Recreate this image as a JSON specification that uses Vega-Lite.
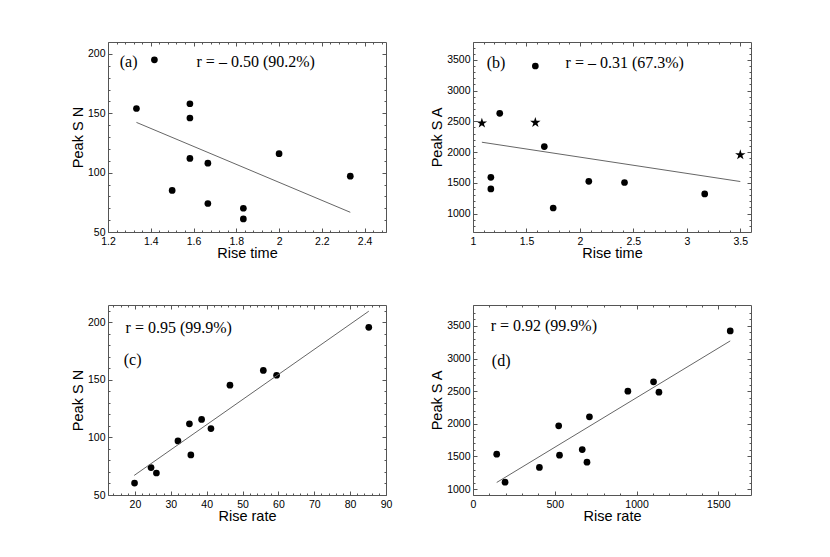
{
  "$schema": "https://vega.github.io/schema/vega-lite/v6.json",
  "background": "white",
  "padding": {"left": 69, "top": 41, "right": 5, "bottom": 5},
  "config": {
    "view": {"stroke": "#555", "strokeWidth": 1},
    "axis": {
      "grid": false,
      "domain": false,
      "tickColor": "#555",
      "tickSize": -4,
      "labelFont": "Liberation Sans",
      "labelFontSize": 10.5,
      "labelColor": "#000",
      "labelFlush": false,
      "labelOverlap": false,
      "titleFont": "Liberation Sans",
      "titleFontSize": 14.5,
      "titleFontWeight": "normal",
      "titleColor": "#000",
      "format": ".6~g"
    },
    "axisX": {"labelPadding": 8, "titlePadding": 0},
    "axisY": {"labelPadding": 7, "titlePadding": 2},
    "text": {"font": "Liberation Serif", "fontSize": 16, "align": "left", "baseline": "middle", "color": "#000"}
  },
  "datasets": {
    "a_points": [
      {"rise_time": 1.417, "peak_sn": 195},
      {"rise_time": 1.333, "peak_sn": 154},
      {"rise_time": 1.583, "peak_sn": 158},
      {"rise_time": 1.583, "peak_sn": 146},
      {"rise_time": 1.583, "peak_sn": 112},
      {"rise_time": 1.667, "peak_sn": 108},
      {"rise_time": 1.5, "peak_sn": 85},
      {"rise_time": 1.667, "peak_sn": 74},
      {"rise_time": 1.833, "peak_sn": 70},
      {"rise_time": 1.833, "peak_sn": 61},
      {"rise_time": 2.0, "peak_sn": 116},
      {"rise_time": 2.333, "peak_sn": 97}
    ],
    "a_fit": [
      {"rise_time": 1.333, "peak_sn": 142.3},
      {"rise_time": 2.333, "peak_sn": 66.6}
    ],
    "b_points": [
      {"rise_time": 1.583, "peak_sa": 3400, "event": "normal"},
      {"rise_time": 1.25, "peak_sa": 2630, "event": "normal"},
      {"rise_time": 1.083, "peak_sa": 2470, "event": "starred"},
      {"rise_time": 1.583, "peak_sa": 2480, "event": "starred"},
      {"rise_time": 1.667, "peak_sa": 2090, "event": "normal"},
      {"rise_time": 1.167, "peak_sa": 1590, "event": "normal"},
      {"rise_time": 1.167, "peak_sa": 1400, "event": "normal"},
      {"rise_time": 1.75, "peak_sa": 1090, "event": "normal"},
      {"rise_time": 2.083, "peak_sa": 1525, "event": "normal"},
      {"rise_time": 2.417, "peak_sa": 1505, "event": "normal"},
      {"rise_time": 3.167, "peak_sa": 1320, "event": "normal"},
      {"rise_time": 3.5, "peak_sa": 1955, "event": "starred"}
    ],
    "b_fit": [
      {"rise_time": 1.083, "peak_sa": 2160},
      {"rise_time": 3.5, "peak_sa": 1521}
    ],
    "c_points": [
      {"rise_rate": 85.2, "peak_sn": 195.6},
      {"rise_rate": 55.8, "peak_sn": 158.2},
      {"rise_rate": 59.5, "peak_sn": 154},
      {"rise_rate": 46.5, "peak_sn": 145.4},
      {"rise_rate": 38.6, "peak_sn": 115.6},
      {"rise_rate": 35.2, "peak_sn": 111.8},
      {"rise_rate": 41.2, "peak_sn": 107.7},
      {"rise_rate": 32, "peak_sn": 97},
      {"rise_rate": 35.6, "peak_sn": 84.8},
      {"rise_rate": 24.5, "peak_sn": 73.8},
      {"rise_rate": 26, "peak_sn": 69.1},
      {"rise_rate": 19.9, "peak_sn": 60.4}
    ],
    "c_fit": [
      {"rise_rate": 19.8, "peak_sn": 67},
      {"rise_rate": 85.2, "peak_sn": 209.6}
    ],
    "d_points": [
      {"rise_rate": 1573, "peak_sa": 3423},
      {"rise_rate": 1104, "peak_sa": 2643},
      {"rise_rate": 1137, "peak_sa": 2485},
      {"rise_rate": 947, "peak_sa": 2500},
      {"rise_rate": 712, "peak_sa": 2107},
      {"rise_rate": 524, "peak_sa": 1969},
      {"rise_rate": 529, "peak_sa": 1520},
      {"rise_rate": 145, "peak_sa": 1536},
      {"rise_rate": 196, "peak_sa": 1107},
      {"rise_rate": 406, "peak_sa": 1332},
      {"rise_rate": 668, "peak_sa": 1605},
      {"rise_rate": 697, "peak_sa": 1413}
    ],
    "d_fit": [
      {"rise_rate": 145, "peak_sa": 1102},
      {"rise_rate": 1573, "peak_sa": 3270}
    ]
  },
  "columns": 2,
  "spacing": {"row": 73, "column": 87},
  "bounds": "flush",
  "concat": [
    {
      "width": 278,
      "height": 190,
      "resolve": {"axis": {"x": "independent", "y": "independent"}},
      "layer": [
        {
          "data": {"name": "a_points"},
          "mark": {"type": "point", "filled": true, "shape": "circle", "size": 45, "color": "#000", "opacity": 1},
          "encoding": {
            "x": {"field": "rise_time", "type": "quantitative", "scale": {"domain": [1.2, 2.5], "nice": false, "zero": false},
              "axis": {"orient": "bottom", "title": "Rise time", "values": [1.2, 1.4, 1.6, 1.8, 2, 2.2, 2.4]}},
            "y": {"field": "peak_sn", "type": "quantitative", "scale": {"domain": [50, 210], "nice": false, "zero": false},
              "axis": {"orient": "left", "title": "Peak S N", "values": [50, 100, 150, 200]}}
          }
        },
        {
          "data": {"name": "a_fit"},
          "mark": {"type": "line", "color": "#666", "strokeWidth": 1},
          "encoding": {
            "x": {"field": "rise_time", "type": "quantitative", "scale": {"domain": [1.2, 2.5], "nice": false, "zero": false},
              "axis": {"orient": "top", "title": null, "labels": false, "values": [1.2, 1.4, 1.6, 1.8, 2, 2.2, 2.4]}},
            "y": {"field": "peak_sn", "type": "quantitative", "scale": {"domain": [50, 210], "nice": false, "zero": false},
              "axis": {"orient": "right", "title": null, "labels": false, "values": [50, 100, 150, 200]}}
          }
        },
        {
          "data": {"values": [{"label": "(a)"}]},
          "mark": {"type": "text"},
          "encoding": {
            "text": {"field": "label"},
            "x": {"datum": 1.255, "type": "quantitative", "scale": {"domain": [1.2, 2.5], "nice": false, "zero": false},
              "axis": {"orient": "bottom", "title": null, "labels": false, "tickSize": -2,
                "values": [1.24, 1.28, 1.32, 1.36, 1.44, 1.48, 1.52, 1.56, 1.64, 1.68, 1.72, 1.76, 1.84, 1.88, 1.92, 1.96, 2.04, 2.08, 2.12, 2.16, 2.24, 2.28, 2.32, 2.36, 2.44, 2.48]}},
            "y": {"datum": 193, "type": "quantitative", "scale": {"domain": [50, 210], "nice": false, "zero": false},
              "axis": {"orient": "left", "title": null, "labels": false, "tickSize": -2,
                "values": [60, 70, 80, 90, 110, 120, 130, 140, 160, 170, 180, 190]}}
          }
        },
        {
          "data": {"values": [{"label": "r = – 0.50 (90.2%)"}]},
          "mark": {"type": "text"},
          "encoding": {
            "text": {"field": "label"},
            "x": {"datum": 1.614, "type": "quantitative", "scale": {"domain": [1.2, 2.5], "nice": false, "zero": false},
              "axis": {"orient": "top", "title": null, "labels": false, "tickSize": -2,
                "values": [1.24, 1.28, 1.32, 1.36, 1.44, 1.48, 1.52, 1.56, 1.64, 1.68, 1.72, 1.76, 1.84, 1.88, 1.92, 1.96, 2.04, 2.08, 2.12, 2.16, 2.24, 2.28, 2.32, 2.36, 2.44, 2.48]}},
            "y": {"datum": 193, "type": "quantitative", "scale": {"domain": [50, 210], "nice": false, "zero": false},
              "axis": {"orient": "right", "title": null, "labels": false, "tickSize": -2,
                "values": [60, 70, 80, 90, 110, 120, 130, 140, 160, 170, 180, 190]}}
          }
        }
      ]
    },
    {
      "width": 278,
      "height": 190,
      "resolve": {"axis": {"x": "independent", "y": "independent"}},
      "layer": [
        {
          "data": {"name": "b_points"},
          "transform": [{"filter": "datum.event == 'normal'"}],
          "mark": {"type": "point", "filled": true, "shape": "circle", "size": 45, "color": "#000", "opacity": 1},
          "encoding": {
            "x": {"field": "rise_time", "type": "quantitative", "scale": {"domain": [1, 3.6], "nice": false, "zero": false},
              "axis": {"orient": "bottom", "title": "Rise time", "values": [1, 1.5, 2, 2.5, 3, 3.5]}},
            "y": {"field": "peak_sa", "type": "quantitative", "scale": {"domain": [700, 3790], "nice": false, "zero": false},
              "axis": {"orient": "left", "title": "Peak S A", "values": [1000, 1500, 2000, 2500, 3000, 3500]}}
          }
        },
        {
          "data": {"name": "b_fit"},
          "mark": {"type": "line", "color": "#666", "strokeWidth": 1},
          "encoding": {
            "x": {"field": "rise_time", "type": "quantitative", "scale": {"domain": [1, 3.6], "nice": false, "zero": false},
              "axis": {"orient": "top", "title": null, "labels": false, "values": [1, 1.5, 2, 2.5, 3, 3.5]}},
            "y": {"field": "peak_sa", "type": "quantitative", "scale": {"domain": [700, 3790], "nice": false, "zero": false},
              "axis": {"orient": "right", "title": null, "labels": false, "values": [1000, 1500, 2000, 2500, 3000, 3500]}}
          }
        },
        {
          "data": {"name": "b_points"},
          "transform": [{"filter": "datum.event == 'starred'"}],
          "mark": {"type": "point", "filled": true, "size": 120, "color": "#000", "opacity": 1,
            "shape": "M0,-1L0.225,-0.309L0.951,-0.309L0.363,0.118L0.588,0.809L0,0.382L-0.588,0.809L-0.363,0.118L-0.951,-0.309L-0.225,-0.309Z"},
          "encoding": {
            "x": {"field": "rise_time", "type": "quantitative", "scale": {"domain": [1, 3.6], "nice": false, "zero": false},
              "axis": {"orient": "bottom", "title": null, "labels": false, "tickSize": -2,
                "values": [1.1, 1.2, 1.3, 1.4, 1.6, 1.7, 1.8, 1.9, 2.1, 2.2, 2.3, 2.4, 2.6, 2.7, 2.8, 2.9, 3.1, 3.2, 3.3, 3.4]}},
            "y": {"field": "peak_sa", "type": "quantitative", "scale": {"domain": [700, 3790], "nice": false, "zero": false},
              "axis": {"orient": "left", "title": null, "labels": false, "tickSize": -2,
                "values": [800, 900, 1100, 1200, 1300, 1400, 1600, 1700, 1800, 1900, 2100, 2200, 2300, 2400, 2600, 2700, 2800, 2900, 3100, 3200, 3300, 3400, 3600, 3700]}}
          }
        },
        {
          "data": {"values": [{"label": "(b)"}]},
          "mark": {"type": "text"},
          "encoding": {
            "text": {"field": "label"},
            "x": {"datum": 1.128, "type": "quantitative", "scale": {"domain": [1, 3.6], "nice": false, "zero": false},
              "axis": {"orient": "top", "title": null, "labels": false, "tickSize": -2,
                "values": [1.1, 1.2, 1.3, 1.4, 1.6, 1.7, 1.8, 1.9, 2.1, 2.2, 2.3, 2.4, 2.6, 2.7, 2.8, 2.9, 3.1, 3.2, 3.3, 3.4]}},
            "y": {"datum": 3456, "type": "quantitative", "scale": {"domain": [700, 3790], "nice": false, "zero": false},
              "axis": {"orient": "right", "title": null, "labels": false, "tickSize": -2,
                "values": [800, 900, 1100, 1200, 1300, 1400, 1600, 1700, 1800, 1900, 2100, 2200, 2300, 2400, 2600, 2700, 2800, 2900, 3100, 3200, 3300, 3400, 3600, 3700]}}
          }
        },
        {
          "data": {"values": [{"label": "r = – 0.31 (67.3%)"}]},
          "mark": {"type": "text"},
          "encoding": {
            "text": {"field": "label"},
            "x": {"datum": 1.866, "type": "quantitative", "scale": {"domain": [1, 3.6], "nice": false, "zero": false}, "axis": null},
            "y": {"datum": 3456, "type": "quantitative", "scale": {"domain": [700, 3790], "nice": false, "zero": false}, "axis": null}
          }
        }
      ]
    },
    {
      "width": 278,
      "height": 190,
      "resolve": {"axis": {"x": "independent", "y": "independent"}},
      "layer": [
        {
          "data": {"name": "c_points"},
          "mark": {"type": "point", "filled": true, "shape": "circle", "size": 45, "color": "#000", "opacity": 1},
          "encoding": {
            "x": {"field": "rise_rate", "type": "quantitative", "scale": {"domain": [12.5, 90], "nice": false, "zero": false},
              "axis": {"orient": "bottom", "title": "Rise rate", "values": [20, 30, 40, 50, 60, 70, 80, 90]}},
            "y": {"field": "peak_sn", "type": "quantitative", "scale": {"domain": [50, 215], "nice": false, "zero": false},
              "axis": {"orient": "left", "title": "Peak S N", "values": [50, 100, 150, 200]}}
          }
        },
        {
          "data": {"name": "c_fit"},
          "mark": {"type": "line", "color": "#666", "strokeWidth": 1},
          "encoding": {
            "x": {"field": "rise_rate", "type": "quantitative", "scale": {"domain": [12.5, 90], "nice": false, "zero": false},
              "axis": {"orient": "top", "title": null, "labels": false, "values": [20, 30, 40, 50, 60, 70, 80]}},
            "y": {"field": "peak_sn", "type": "quantitative", "scale": {"domain": [50, 215], "nice": false, "zero": false},
              "axis": {"orient": "right", "title": null, "labels": false, "values": [50, 100, 150, 200]}}
          }
        },
        {
          "data": {"values": [{"label": "r = 0.95 (99.9%)"}]},
          "mark": {"type": "text"},
          "encoding": {
            "text": {"field": "label"},
            "x": {"datum": 17.4, "type": "quantitative", "scale": {"domain": [12.5, 90], "nice": false, "zero": false},
              "axis": {"orient": "bottom", "title": null, "labels": false, "tickSize": -2,
                "values": [14, 16, 18, 22, 24, 26, 28, 32, 34, 36, 38, 42, 44, 46, 48, 52, 54, 56, 58, 62, 64, 66, 68, 72, 74, 76, 78, 82, 84, 86, 88]}},
            "y": {"datum": 195, "type": "quantitative", "scale": {"domain": [50, 215], "nice": false, "zero": false},
              "axis": {"orient": "left", "title": null, "labels": false, "tickSize": -2,
                "values": [60, 70, 80, 90, 110, 120, 130, 140, 160, 170, 180, 190, 210]}}
          }
        },
        {
          "data": {"values": [{"label": "(c)"}]},
          "mark": {"type": "text"},
          "encoding": {
            "text": {"field": "label"},
            "x": {"datum": 16.9, "type": "quantitative", "scale": {"domain": [12.5, 90], "nice": false, "zero": false},
              "axis": {"orient": "top", "title": null, "labels": false, "tickSize": -2,
                "values": [14, 16, 18, 22, 24, 26, 28, 32, 34, 36, 38, 42, 44, 46, 48, 52, 54, 56, 58, 62, 64, 66, 68, 72, 74, 76, 78, 82, 84, 86, 88]}},
            "y": {"datum": 167.5, "type": "quantitative", "scale": {"domain": [50, 215], "nice": false, "zero": false},
              "axis": {"orient": "right", "title": null, "labels": false, "tickSize": -2,
                "values": [60, 70, 80, 90, 110, 120, 130, 140, 160, 170, 180, 190, 210]}}
          }
        }
      ]
    },
    {
      "width": 278,
      "height": 190,
      "resolve": {"axis": {"x": "independent", "y": "independent"}},
      "layer": [
        {
          "data": {"name": "d_points"},
          "mark": {"type": "point", "filled": true, "shape": "circle", "size": 45, "color": "#000", "opacity": 1},
          "encoding": {
            "x": {"field": "rise_rate", "type": "quantitative", "scale": {"domain": [0, 1700], "nice": false, "zero": false},
              "axis": {"orient": "bottom", "title": "Rise rate", "values": [0, 500, 1000, 1500]}},
            "y": {"field": "peak_sa", "type": "quantitative", "scale": {"domain": [910, 3820], "nice": false, "zero": false},
              "axis": {"orient": "left", "title": "Peak S A", "values": [1000, 1500, 2000, 2500, 3000, 3500]}}
          }
        },
        {
          "data": {"name": "d_fit"},
          "mark": {"type": "line", "color": "#666", "strokeWidth": 1},
          "encoding": {
            "x": {"field": "rise_rate", "type": "quantitative", "scale": {"domain": [0, 1700], "nice": false, "zero": false},
              "axis": {"orient": "top", "title": null, "labels": false, "values": [0, 500, 1000, 1500]}},
            "y": {"field": "peak_sa", "type": "quantitative", "scale": {"domain": [910, 3820], "nice": false, "zero": false},
              "axis": {"orient": "right", "title": null, "labels": false, "values": [1000, 1500, 2000, 2500, 3000, 3500]}}
          }
        },
        {
          "data": {"values": [{"label": "r = 0.92 (99.9%)"}]},
          "mark": {"type": "text"},
          "encoding": {
            "text": {"field": "label"},
            "x": {"datum": 108, "type": "quantitative", "scale": {"domain": [0, 1700], "nice": false, "zero": false},
              "axis": {"orient": "bottom", "title": null, "labels": false, "tickSize": -2,
                "values": [100, 200, 300, 400, 600, 700, 800, 900, 1100, 1200, 1300, 1400, 1600]}},
            "y": {"datum": 3500, "type": "quantitative", "scale": {"domain": [910, 3820], "nice": false, "zero": false},
              "axis": {"orient": "left", "title": null, "labels": false, "tickSize": -2,
                "values": [1100, 1200, 1300, 1400, 1600, 1700, 1800, 1900, 2100, 2200, 2300, 2400, 2600, 2700, 2800, 2900, 3100, 3200, 3300, 3400, 3600, 3700]}}
          }
        },
        {
          "data": {"values": [{"label": "(d)"}]},
          "mark": {"type": "text"},
          "encoding": {
            "text": {"field": "label"},
            "x": {"datum": 115, "type": "quantitative", "scale": {"domain": [0, 1700], "nice": false, "zero": false},
              "axis": {"orient": "top", "title": null, "labels": false, "tickSize": -2,
                "values": [100, 200, 300, 400, 600, 700, 800, 900, 1100, 1200, 1300, 1400, 1600]}},
            "y": {"datum": 2964, "type": "quantitative", "scale": {"domain": [910, 3820], "nice": false, "zero": false},
              "axis": {"orient": "right", "title": null, "labels": false, "tickSize": -2,
                "values": [1100, 1200, 1300, 1400, 1600, 1700, 1800, 1900, 2100, 2200, 2300, 2400, 2600, 2700, 2800, 2900, 3100, 3200, 3300, 3400, 3600, 3700]}}
          }
        }
      ]
    }
  ]
}
